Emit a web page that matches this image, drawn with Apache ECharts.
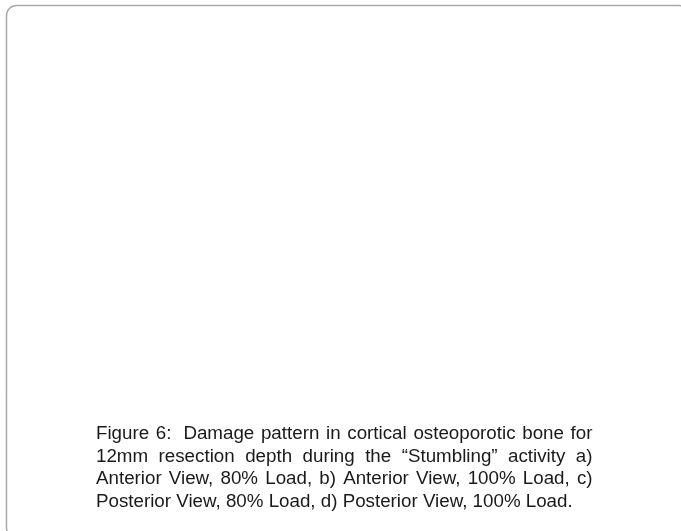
<!DOCTYPE html>
<html><head><meta charset="utf-8">
<script src="https://cdn.jsdelivr.net/npm/echarts@6/dist/echarts.min.js"></script>
<style>html,body{margin:0;padding:0;background:#fff}#c{width:681px;height:531px}</style>
</head><body><div id="c"></div>
<script>
const captionLines = [
  "Figure 6:  Damage pattern in cortical osteoporotic bone for",
  "12mm resection depth during the \u201CStumbling\u201D activity a)",
  "Anterior View, 80% Load, b) Anterior View, 100% Load, c)",
  "Posterior View, 80% Load, d) Posterior View, 100% Load."
];
const justifiedLines = [true, true, true, false];

const FONT_SIZE = 18.75;
const FONT_FAMILY = '"Liberation Sans", Arial, sans-serif';
const TEXT_LEFT = 96;
const TEXT_RIGHT = 592.5;
const FIRST_MID = 434;
const LINE_GAP = 22.6;

const chart = echarts.init(document.getElementById('c'), null, {renderer: 'canvas'});
const ctx = document.createElement('canvas').getContext('2d');
ctx.font = FONT_SIZE + 'px ' + FONT_FAMILY;

const elements = [{
  type: 'rect',
  shape: {x: 6.5, y: 5.5, width: 682, height: 532, r: 10},
  style: {fill: 'none', stroke: '#a9a9a9', lineWidth: 1.5},
  silent: true
}];

captionLines.forEach(function (line, i) {
  const y = FIRST_MID + i * LINE_GAP;
  const textStyle = function (t, x) {
    return {type: 'text', x: x, y: y, silent: true,
      style: {text: t, font: FONT_SIZE + 'px ' + FONT_FAMILY, fill: '#1a1a1a',
        textAlign: 'left', textVerticalAlign: 'middle', verticalAlign: 'middle'}};
  };
  if (!justifiedLines[i]) {
    elements.push(textStyle(line, TEXT_LEFT));
    return;
  }
  const parts = line.split(/( +)/);
  const words = [], spaces = [];
  parts.forEach(function (p, k) { if (k % 2 === 0) words.push(p); else spaces.push(p); });
  const natural = ctx.measureText(line).width;
  const extra = (TEXT_RIGHT - TEXT_LEFT - natural) / Math.max(1, words.length - 1);
  let x = TEXT_LEFT;
  words.forEach(function (w, k) {
    elements.push(textStyle(w, x));
    x += ctx.measureText(w).width;
    if (k < spaces.length) x += ctx.measureText(spaces[k]).width + extra;
  });
});

chart.setOption({
  backgroundColor: '#ffffff',
  animation: false,
  graphic: {elements: elements}
});
</script></body></html>
